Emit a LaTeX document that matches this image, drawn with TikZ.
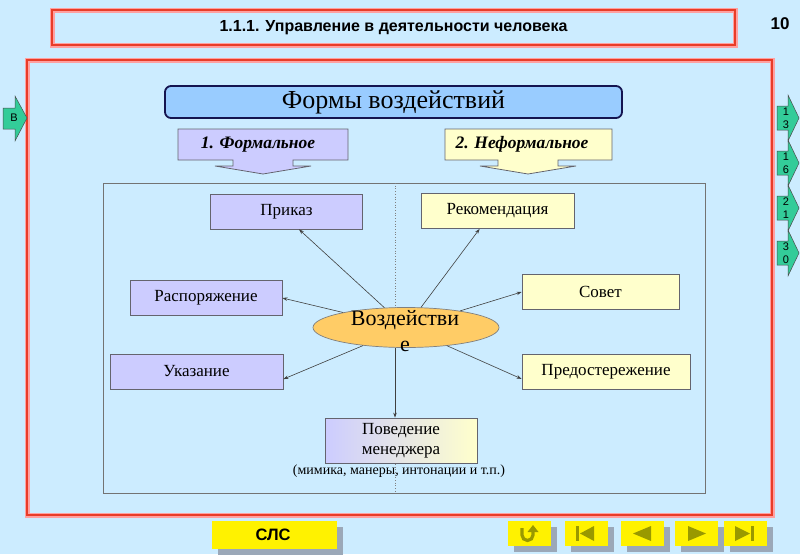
\documentclass[tikz,border=0pt]{standalone}
\usepackage{fontspec}
\setmainfont{Liberation Serif}
\setsansfont{Liberation Sans}
\usetikzlibrary{shapes.geometric,arrows.meta}
\definecolor{bg}{RGB}{204,236,255}
\definecolor{lav}{RGB}{204,204,255}
\definecolor{lyel}{RGB}{255,255,204}
\definecolor{formsfill}{RGB}{153,204,255}
\definecolor{navy}{RGB}{20,20,80}
\definecolor{orng}{RGB}{255,204,102}
\definecolor{grn}{RGB}{51,204,153}
\definecolor{frred}{RGB}{232,60,40}
\definecolor{frpink}{RGB}{255,160,160}
\definecolor{olive}{RGB}{153,153,0}
\definecolor{shad}{RGB}{155,168,184}
\definecolor{bordgray}{RGB}{100,100,110}
\tikzset{
  fbox/.style={draw=bordgray, line width=0.8pt, rectangle, inner sep=0pt, minimum height=35pt,
     font=\fontsize{17}{19}\selectfont},
  formal/.style={fbox, fill=lav},
  informal/.style={fbox, fill=lyel},
  conn/.style={-{Stealth[length=5pt,width=3.5pt]}, draw=black!75, line width=0.6pt},
  navbtn/.style={fill=yellow, draw=none},
  navshadow/.style={fill=shad, draw=none},
  navicon/.style={fill=olive, draw=none},
  greenarrow/.style={fill=grn, draw=black!70, line width=0.5pt},
  callout/.style={draw=bordgray, line width=0.8pt},
}
\begin{document}
\begin{tikzpicture}[x=1pt,y=-1pt]
\useasboundingbox (0,0) rectangle (800,554);
\fill[bg] (0,0) rectangle (800,554);

% title box
\draw[frpink, line width=5pt] (52,10) rectangle (735,45);
\draw[frred, line width=2.2pt] (52,10) rectangle (735,45);
\node[font=\sffamily\bfseries\fontsize{16}{18}\selectfont] (title) at (393.5,27.5) {1.1.1. Управление в деятельности человека};
\node[font=\sffamily\bfseries\fontsize{17}{19}\selectfont] (pagenum) at (780,24) {10};

% main frame
\draw[frpink, line width=5pt] (27,60) rectangle (772,515);
\draw[frred, line width=2.2pt] (27,60) rectangle (772,515);

% left green arrow
\draw[greenarrow] (3,108) -- (15,108) -- (15,96) -- (27,118) -- (15,141) -- (15,129) -- (3,129) -- cycle;
\node[font=\sffamily\fontsize{11}{12}\selectfont] (backlbl) at (14,118) {В};

% right green arrows
\foreach \c/\a/\b [count=\i] in {118/1/3,163/1/6,208/2/1,253/3/0}{
  \draw[greenarrow] (777,\c-12) -- (788,\c-12) -- (788,\c-23) -- (799,\c) -- (788,\c+23) -- (788,\c+12) -- (777,\c+12) -- cycle;
  \node[font=\sffamily\fontsize{11}{13}\selectfont, align=center, inner sep=0pt] (ra\i) at (786,\c) {\a\\\b};
}

% forms header
\node[draw=navy, line width=1.8pt, fill=formsfill, rounded corners=6pt, minimum width=457pt, minimum height=32pt,
      inner sep=0pt, font=\fontsize{26}{28}\selectfont] (forms) at (393.5,102) {Формы воздействий};

% callouts
\draw[callout, fill=lav] (178,129) -- (348,129) -- (348,160) -- (293,160) -- (293,166) -- (311,166) -- (263,174)
   -- (215,166) -- (233,166) -- (233,160) -- (178,160) -- cycle;
\node[font=\bfseries\itshape\fontsize{17.5}{19}\selectfont] (f1) at (258,144.5) {1. Формальное};
\draw[callout, fill=lyel] (445,129) -- (612,129) -- (612,160) -- (558,160) -- (558,166) -- (576,166) -- (528,174)
   -- (480,166) -- (498,166) -- (498,160) -- (445,160) -- cycle;
\node[font=\bfseries\itshape\fontsize{17.5}{19}\selectfont] (f2) at (522,144.5) {2. Неформальное};

% inner frame and dotted divider
\draw[draw=black!55, line width=0.9pt] (103,183) rectangle (705,493);
\coordinate (dtop) at (395,183);
\coordinate (dbot) at (395,493);
\draw[black!50, dotted, line width=0.7pt] (dtop) -- (dbot);

% boxes
\node[formal, minimum width=152pt] (prikaz) at (286.5,211.5) {Приказ};
\node[informal, minimum width=153pt] (rekom) at (497.5,211) {Рекомендация};
\node[formal, minimum width=152pt] (rasp) at (206,298) {Распоряжение};
\node[informal, minimum width=157pt] (sovet) at (600.5,292) {Совет};
\node[formal, minimum width=173pt] (ukaz) at (196.5,371.5) {Указание};
\node[informal, minimum width=168pt] (pred) at (606,371.5) {Предостережение};
\node[draw=bordgray, line width=0.8pt, left color=lav, right color=lyel, minimum width=152pt, minimum height=45pt,
      inner sep=0pt, align=center, font=\fontsize{17}{19.5}\selectfont] (pov) at (401,440.5) {Поведение\\менеджера};
\node[font=\fontsize{14}{16}\selectfont] (povnote) at (399,471) {(мимика, манеры, интонации и т.п.)};

% ellipse
\node[ellipse, draw=black!50, line width=0.7pt, fill=orng, minimum width=186pt, minimum height=40pt, inner sep=0pt] (ell) at (406,327.5) {};
\node[align=center, font=\fontsize{22}{26}\selectfont, inner sep=0pt] (elltext) at (405,331) {Воздействи\\е};

% connectors
\draw[conn] (ell) -- (prikaz.-55);
\draw[conn] (ell) -- (rekom.-135);
\draw[conn] (ell) -- (rasp.east);
\draw[conn] (ell) -- (sovet.west);
\draw[conn] (ell) -- (ukaz.-5);
\draw[conn] (ell) -- (pred.185);
\draw[conn] (ell.south -| dtop) -- (pov.north -| dtop);

% bottom buttons
\fill[navshadow] (218,527) rectangle (343,555);
\fill[navbtn] (212,521) rectangle (337,549);
\node[font=\sffamily\bfseries\fontsize{16.5}{18}\selectfont] (sls) at (273,535) {СЛС};

\foreach \x in {508,565,621,675,724}{
  \fill[navshadow] (\x+6,527) rectangle (\x+49,552);
  \fill[navbtn] (\x,521) rectangle (\x+43,546);
}
% icon 1: U-turn
\draw[olive, line width=3.2pt] (522,528) -- (522,535) arc[start angle=180, end angle=360, radius=5.5pt] -- (533,531);
\fill[navicon] (527.5,532) -- (538.5,532) -- (533,525) -- cycle;
% icon 2: |<
\fill[navicon] (576,526) rectangle (579,541);
\fill[navicon] (594,526) -- (594,541) -- (580,533.5) -- cycle;
% icon 3: <
\fill[navicon] (651,526) -- (651,541) -- (633,533.5) -- cycle;
% icon 4: >
\fill[navicon] (688,526) -- (688,541) -- (706,533.5) -- cycle;
% icon 5: >|
\fill[navicon] (735,526) -- (735,541) -- (750,533.5) -- cycle;
\fill[navicon] (751,526) rectangle (754,541);
\end{tikzpicture}
\end{document}
